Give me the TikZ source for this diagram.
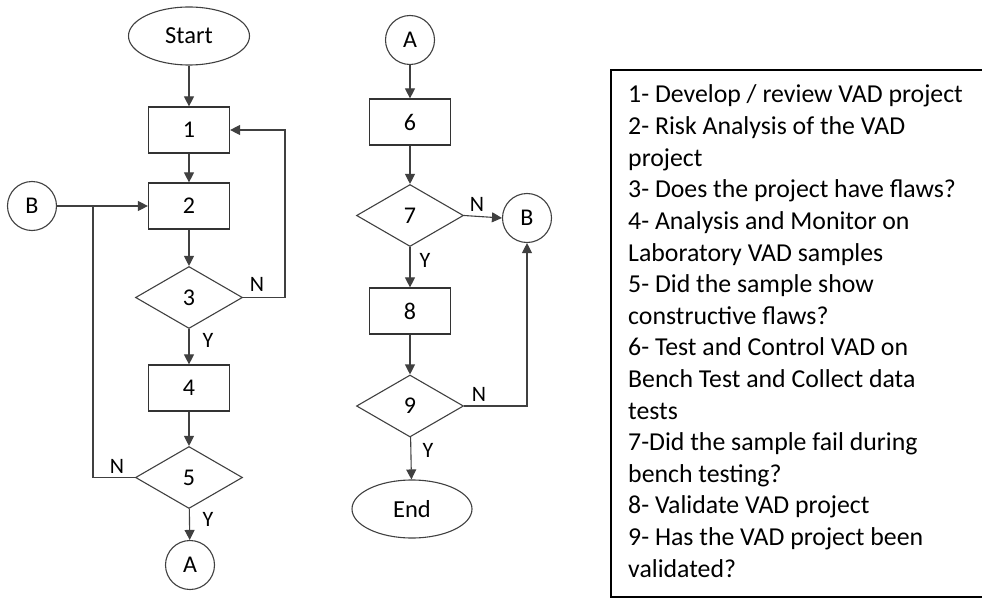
\documentclass[tikz,border=0pt]{standalone}
\usepackage{fontspec}
\setmainfont{Carlito}
\usetikzlibrary{shapes.geometric,arrows.meta}
\tikzset{
  ln/.style={draw=black!75, line width=1.1pt},
  arr/.style={ln, -{Triangle[length=10pt,width=10pt]}},
  boxn/.style={draw=black!80, line width=1.2pt, minimum width=81pt, minimum height=46pt, inner sep=0pt, font=\fontsize{24}{28}\selectfont},
  dia/.style={diamond, draw=black!75, line width=1.1pt, minimum width=107pt, minimum height=62pt, inner sep=0pt, font=\fontsize{24}{28}\selectfont},
  circ/.style={circle, draw=black!75, line width=1.1pt, minimum size=49pt, inner sep=0pt, font=\fontsize{24}{28}\selectfont},
  ell/.style={ellipse, draw=black!75, line width=1.1pt, minimum width=121pt, minimum height=58pt, inner sep=0pt, font=\fontsize{24.5}{28}\selectfont},
  lab/.style={inner sep=0pt, font=\fontsize{22}{26}\selectfont}
}
\begin{document}
\begin{tikzpicture}[x=1pt,y=-1pt]
\useasboundingbox (0,0) rectangle (982,599);
% left column
\node[ell] (start) at (189,36) {Start};
\node[boxn] (b1) at (189,130) {1};
\node[boxn] (b2) at (189,206) {2};
\node[dia] (d3) at (189,297.5) {3};
\node[boxn] (b4) at (189,388) {4};
\node[dia] (d5) at (189,477.5) {5};
\node[circ] (ca1) at (190,565) {A};
\node[circ] (cb1) at (32,206) {B};
\coordinate (j1) at (93,206);
\coordinate (r3) at (285,297.5);
% right column
\node[circ] (ca2) at (410,40) {A};
\node[boxn] (b6) at (410,122) {6};
\node[dia] (d7) at (410,215.5) {7};
\node[circ] (cb2) at (527,218) {B};
\node[boxn] (b8) at (410,311) {8};
\node[dia] (d9) at (410,406) {9};
\node[ell, minimum width=120pt] (end) at (412,509) {End};
% connectors left
\draw[arr] (start) -- (b1);
\draw[arr] (b1) -- (b2);
\draw[arr] (b2) -- (d3);
\draw[arr] (d3.east) -- (r3) |- (b1.east);
\draw[arr] (d3) -- (b4);
\draw[arr] (b4) -- (d5);
\draw[ln] (d5.west) -| (j1);
\draw[arr] (cb1) -- (b2.west);
\draw[arr] (d5) -- (ca1);
\node[lab] (n3) at (257,284) {N};
\node[lab] (y3) at (208,340) {Y};
\node[lab] (n5) at (117,466) {N};
\node[lab] (y5) at (208,519) {Y};
% connectors right
\draw[arr] (ca2) -- (b6);
\draw[arr] (b6) -- (d7);
\draw[arr] (d7.east) -- (cb2.west);
\draw[arr] (d7) -- (b8);
\draw[arr] (b8) -- (d9);
\draw[arr] (d9.east) -| (cb2.south);
\draw[arr] (d9) -- (end);
\node[lab] (n7) at (477,204) {N};
\node[lab] (y7) at (425,260) {Y};
\node[lab] (n9) at (479,394) {N};
\node[lab] (y9) at (428,450) {Y};
% legend
\draw[black, line width=1.5pt] (983,70) -- (611,70) -- (611,597) -- (983,597);
\node[anchor=base west, inner sep=0pt] (legend) at (628,103) {\parbox[t]{350pt}{\fontsize{25.8}{31.6}\selectfont\raggedright
1- Develop / review VAD project\\
2- Risk Analysis of the VAD\\
project\\
3- Does the project have flaws?\\
4- Analysis and Monitor on\\
Laboratory VAD samples\\
5- Did the sample show\\
constructive flaws?\\
6- Test and Control VAD on\\
Bench Test and Collect data\\
tests\\
7-Did the sample fail during\\
bench testing?\\
8- Validate VAD project\\
9- Has the VAD project been\\
validated?}};
\end{tikzpicture}
\end{document}
